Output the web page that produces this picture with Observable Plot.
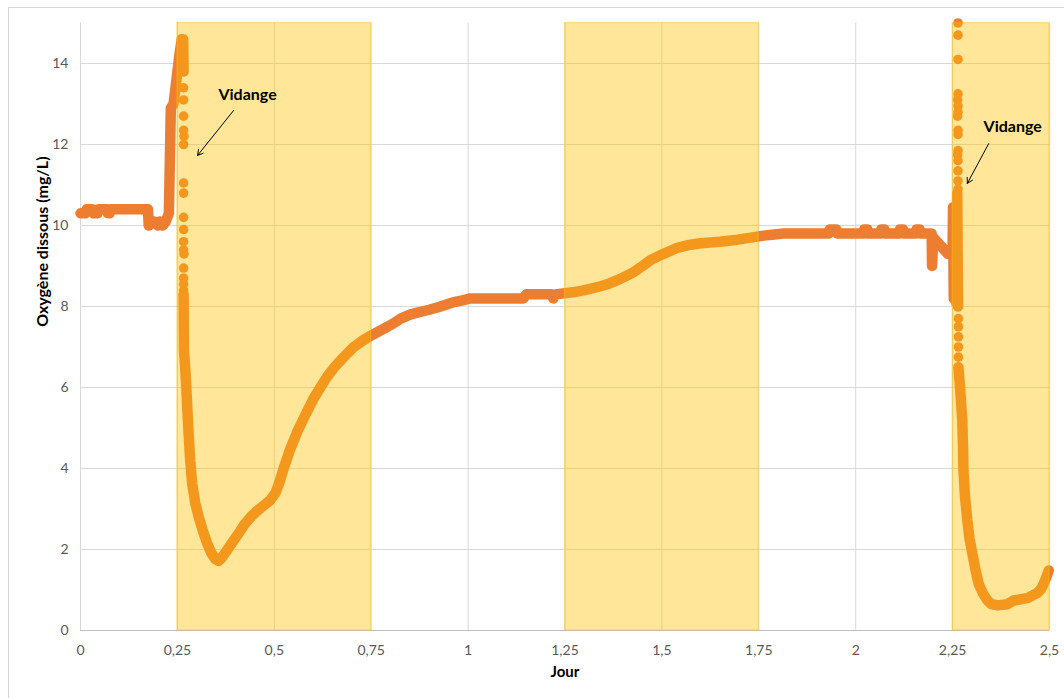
<!DOCTYPE html>
<html>
<head>
<meta charset="utf-8">
<script src="https://cdn.jsdelivr.net/npm/d3@7"></script>
<script src="https://cdn.jsdelivr.net/npm/@observablehq/plot@0.6"></script>
<style>
  html, body { margin: 0; padding: 0; background: #fff; overflow: hidden; }
  #wrap { position: relative; width: 1064px; height: 698px; }
  #frame { position: absolute; left: 8px; top: 7px; width: 1070px; height: 700px; border: 1px solid #D9D9D9; box-sizing: border-box; pointer-events: none; }
  #chart { position: absolute; left: 0; top: 0; }
</style>
</head>
<body>
<div id="wrap"><div id="chart"></div><div id="frame"></div></div>
<script>
// ---- Data ----
const xTicks = [0, 0.25, 0.5, 0.75, 1, 1.25, 1.5, 1.75, 2, 2.25, 2.5];
const yTicks = [0, 2, 4, 6, 8, 10, 12, 14];

// Shaded periods (jour start / end)
const bandStart = [0.25, 1.25, 2.25];
const bandEnd   = [0.75, 1.75, 2.5];

// Continuous trace, part 1: day 0 up to the first peak
const trace1 = [
  [0, 10.3], [0.012, 10.3], [0.016, 10.4], [0.03, 10.4], [0.034, 10.3], [0.044, 10.3],
  [0.047, 10.4], [0.068, 10.4], [0.071, 10.3], [0.075, 10.3], [0.078, 10.4], [0.174, 10.4],
  [0.176, 10.0], [0.18, 10.1], [0.19, 10.1], [0.2, 10.0], [0.205, 10.1], [0.212, 10.0],
  [0.22, 10.1], [0.228, 10.3], [0.233, 12.9], [0.24, 13.0], [0.255, 14.2], [0.261, 14.6],
  [0.265, 14.6], [0.266, 13.8]
];
// Continuous trace, part 2: after first "vidange" to the second one
const trace2 = [
  [0.266, 8.3], [0.267, 6.9], [0.27, 6.5], [0.273, 6.0], [0.276, 5.4], [0.279, 4.86],
  [0.283, 4.2], [0.288, 3.63], [0.296, 3.15], [0.305, 2.8], [0.316, 2.45], [0.327, 2.15],
  [0.337, 1.92], [0.348, 1.76], [0.356, 1.72], [0.365, 1.8], [0.378, 1.98], [0.392, 2.18],
  [0.408, 2.4], [0.423, 2.62], [0.439, 2.8], [0.455, 2.95], [0.472, 3.08], [0.49, 3.22],
  [0.503, 3.4], [0.513, 3.65], [0.524, 4.0], [0.54, 4.45], [0.559, 4.9], [0.58, 5.32],
  [0.601, 5.72], [0.62, 6.02], [0.637, 6.28], [0.655, 6.5], [0.679, 6.75], [0.705, 7.0],
  [0.73, 7.17], [0.753, 7.3], [0.772, 7.4], [0.792, 7.5], [0.81, 7.6], [0.826, 7.7],
  [0.85, 7.8], [0.869, 7.85], [0.9, 7.92], [0.929, 8.0], [0.96, 8.1], [0.985, 8.15],
  [1.006, 8.2], [1.143, 8.2], [1.15, 8.3], [1.215, 8.3], [1.22, 8.2], [1.225, 8.3],
  [1.27, 8.35], [1.298, 8.4], [1.342, 8.5], [1.365, 8.57], [1.385, 8.65], [1.405, 8.74],
  [1.427, 8.85], [1.45, 9.0], [1.471, 9.15], [1.504, 9.3], [1.54, 9.45], [1.57, 9.52],
  [1.6, 9.56], [1.65, 9.6], [1.695, 9.65], [1.73, 9.7], [1.762, 9.75], [1.79, 9.78],
  [1.814, 9.8], [1.93, 9.8], [1.933, 9.9], [1.95, 9.9], [1.953, 9.8], [2.02, 9.8],
  [2.022, 9.9], [2.03, 9.9], [2.032, 9.8], [2.064, 9.8], [2.066, 9.9], [2.074, 9.9],
  [2.076, 9.8], [2.112, 9.8], [2.114, 9.9], [2.122, 9.9], [2.124, 9.8], [2.155, 9.8],
  [2.157, 9.9], [2.165, 9.9], [2.167, 9.8], [2.196, 9.8], [2.197, 9.0], [2.2, 9.7],
  [2.238, 9.3], [2.25, 9.4], [2.251, 10.45], [2.253, 8.2], [2.256, 10.2], [2.259, 8.1],
  [2.262, 10.8], [2.264, 8.0]
];
// Continuous trace, part 3: after second "vidange"
const trace3 = [
  [2.265, 6.5], [2.27, 5.9], [2.275, 5.2], [2.277, 4.5], [2.278, 3.95], [2.282, 3.3],
  [2.288, 2.72], [2.294, 2.25], [2.301, 1.9], [2.309, 1.5], [2.317, 1.16], [2.328, 0.92],
  [2.34, 0.74], [2.35, 0.65], [2.366, 0.62], [2.392, 0.65], [2.4, 0.7], [2.407, 0.74],
  [2.443, 0.8], [2.469, 0.93], [2.478, 1.02], [2.485, 1.15], [2.492, 1.32], [2.498, 1.48]
];
// Sparse readings during the fast drops
const dropJour1 = [0.266, 0.266, 0.266, 0.266, 0.267, 0.266, 0.266, 0.266, 0.266, 0.266, 0.266, 0.266, 0.267, 0.266, 0.266, 0.266, 0.266];
const dropO2_1  = [13.4, 13.1, 12.7, 12.35, 12.2, 12.0, 11.05, 10.8, 10.2, 9.9, 9.6, 9.4, 9.3, 8.95, 8.7, 8.55, 8.4];
const dropJour2 = [2.264, 2.264, 2.264, 2.264, 2.263, 2.264, 2.264, 2.263, 2.264, 2.264, 2.264, 2.263, 2.264, 2.264, 2.264, 2.264, 2.265, 2.265, 2.265, 2.265, 2.265];
const dropO2_2  = [15.0, 14.7, 14.1, 13.25, 13.1, 12.95, 12.8, 12.7, 12.35, 12.25, 11.85, 11.75, 11.6, 11.35, 11.1, 10.9, 7.7, 7.5, 7.25, 7.0, 6.75];

// Annotations
const noteText = ["Vidange", "Vidange"];
const noteX = [0.431, 2.405];
const noteY = [13.23, 12.44];
const arrowX1 = [0.395, 2.343];
const arrowY1 = [12.84, 12.02];
const arrowX2 = [0.302, 2.288];
const arrowY2 = [11.73, 11.04];

// ---- Build tables ----
const traces = [trace1, trace2, trace3].flatMap((t, i) => t.map(([x, y]) => ({x, y, seg: i})));
const drops = [
  ...dropJour1.map((x, i) => ({x, y: dropO2_1[i]})),
  ...dropJour2.map((x, i) => ({x, y: dropO2_2[i]}))
];
const bands = bandStart.map((s, i) => ({s, e: bandEnd[i]}));
const notes = noteText.map((t, i) => ({t, x: noteX[i], y: noteY[i]}));
const arrows = arrowX1.map((x1, i) => ({x1, y1: arrowY1[i], x2: arrowX2[i], y2: arrowY2[i]}));

const ORANGE = "#ED7D31";
const fmt = t => String(t).replace(".", ",");

const chart = Plot.plot({
  width: 1064,
  height: 698,
  marginLeft: 80,
  marginRight: 15,
  marginTop: 22.5,
  marginBottom: 68,
  style: {fontFamily: "Lato, 'Open Sans', sans-serif", fontSize: "14px", color: "#595959", background: "transparent"},
  x: {domain: [0, 2.5], ticks: xTicks, tickFormat: fmt, tickSize: 0, tickPadding: 15, label: null},
  y: {domain: [0, 15], ticks: yTicks, tickSize: 0, tickPadding: 12, label: null},
  marks: [
    Plot.gridX(xTicks, {stroke: "#D9D9D9", strokeOpacity: 1}),
    Plot.gridY(yTicks, {stroke: "#D9D9D9", strokeOpacity: 1}),
    Plot.ruleY([0], {stroke: "#BFBFBF"}),
    Plot.line(traces, {x: "x", y: "y", z: "seg", stroke: ORANGE, strokeWidth: 10.5, strokeLinejoin: "round", strokeLinecap: "round"}),
    Plot.dot(drops, {x: "x", y: "y", r: 4.8, fill: ORANGE, stroke: "none"}),
    Plot.rect(bands, {x1: "s", x2: "e", y1: 0, y2: 15, fill: "#FFC000", fillOpacity: 0.4, stroke: "#FFC000", strokeOpacity: 0.35, strokeWidth: 1.5}),
    Plot.arrow(arrows, {x1: "x1", y1: "y1", x2: "x2", y2: "y2", stroke: "#000", strokeWidth: 1, headLength: 9}),
    Plot.text(notes, {x: "x", y: "y", text: "t", fill: "#000", fontWeight: "bold", fontSize: 16}),
    Plot.text(["Jour"], {frameAnchor: "bottom", dy: 46, fill: "#000", fontWeight: "bold", fontSize: 15}),
    Plot.text(["Oxygène dissous (mg/L)"], {frameAnchor: "left", dx: -38, rotate: -90, fill: "#000", fontWeight: "bold", fontSize: 16})
  ]
});
document.getElementById("chart").appendChild(chart);
</script>
</body>
</html>
